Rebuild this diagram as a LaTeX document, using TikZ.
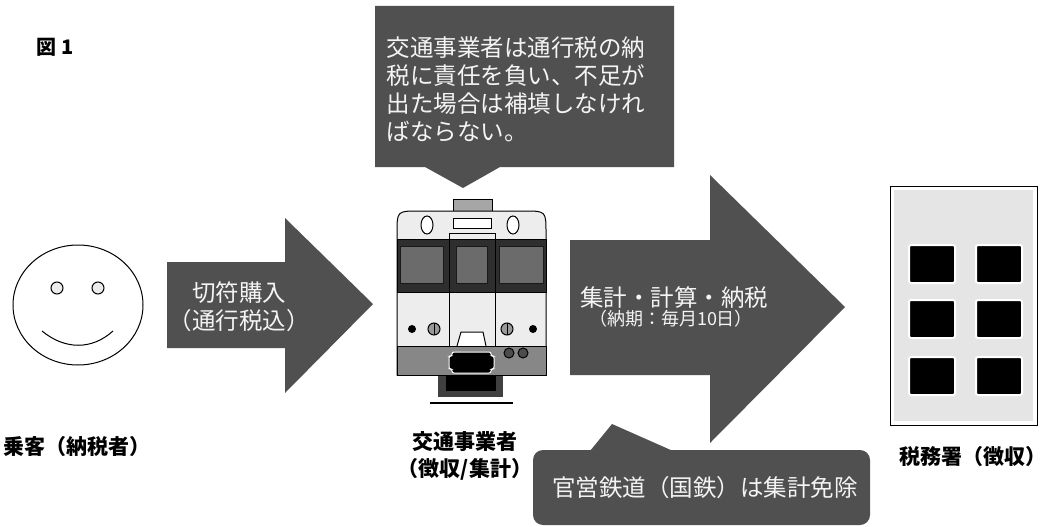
\documentclass[tikz,border=0pt]{standalone}
\usepackage{fontspec}
\usepackage{tikz}
\usetikzlibrary{shapes.geometric}
\newfontfamily\jpfont{Noto Sans CJK JP}
\definecolor{boxgray}{RGB}{80,80,80}
\definecolor{paneltext}{RGB}{244,244,244}

\begin{document}
\begin{tikzpicture}[x=1pt,y=-1pt,line width=1pt,
	boxtext/.style={text=paneltext,font=\jpfont\fontsize{23.5}{28}\selectfont,inner sep=0pt},
	namelabel/.style={font=\jpfont\bfseries\fontsize{21}{27}\selectfont,align=center,inner sep=0pt},
	officewin/.style={fill=black,draw=white,line width=2pt,rounded corners=2pt,minimum width=46,minimum height=38,inner sep=0pt}]
				\useasboundingbox (0,0) rectangle (1052,527);
				\node (fig) at (55,47) [font=\jpfont\bfseries\fontsize{20}{22}\selectfont] {図 1};

				\node (face) at (78,305) [ellipse,draw,minimum width=130,minimum height=120] {};
				\node (eyeL) at (57,288) [circle,draw,fill=gray!15,inner sep=0pt,minimum size=12] {};
				\node (eyeR) at (98,288) [circle,draw,fill=gray!15,inner sep=0pt,minimum size=12] {};
				\draw (42,331) .. controls (65,350) and (92,350) .. (113,331);
				\node (rider) at (77,447) [namelabel] {乗客（納税者）};

				\fill[boxgray] (167,262) -- (285,262) -- (285,218) -- (373,304) -- (285,393) -- (285,348) -- (167,348) -- cycle;
				\node (buy) at (239,307) [boxtext,align=center] {切符購入\\（通行税込）};

				\fill[boxgray] (375,6) -- (674,6) -- (674,167) -- (500,167) -- (463,188) -- (425,167) -- (375,167) -- cycle;
				\node (duty) at (386,89) [boxtext,anchor=west,align=left] {交通事業者は通行税の納\\税に責任を負い、不足が\\出た場合は補填しなけれ\\ばならない。};

				\draw[fill=black!35] (453,199) rectangle (492,211);
				\filldraw[fill=black!7] (397,375) -- (397,233) .. controls (397,211) .. (419,211) -- (524,211) .. controls (546,211) .. (546,233) -- (546,375) -- cycle;
				\draw[fill=white] (427,225) ellipse (6 and 9);
				\draw[fill=white] (513,225) ellipse (6 and 9);
				\draw[fill=white] (453,218) rectangle (491,228);
				\filldraw[fill=black!82,draw=black] (397,239) rectangle (546,292);
				\filldraw[fill=black!58,draw=black!90] (400,246) rectangle (443,283);
				\filldraw[fill=black!58,draw=black!90] (456,246) rectangle (487,283);
				\filldraw[fill=black!58,draw=black!90] (499,246) rectangle (543,283);
				\draw[line width=0.6pt] (449,233) rectangle (495,346);
				\fill (412,329) circle (4);
				\fill (533,329) circle (4);
				\draw[fill=black!40] (434,329) circle (6);
				\draw (434,323) -- (434,335);
				\draw[fill=black!40] (507,329) circle (6);
				\draw (507,323) -- (507,335);
				\draw[fill=white] (457,346) -- (461,332) -- (483,332) -- (486,346);
				\filldraw[fill=black!47] (397,346) rectangle (546,375);
				\filldraw[fill=black,draw=white,rounded corners=2pt] (452,352) -- (491,352) -- (491,356) -- (494,356) -- (494,369) -- (491,369) -- (491,373) -- (452,373) -- (452,369) -- (449,369) -- (449,356) -- (452,356) -- cycle;
				\filldraw[fill=black!70] (509,353) circle (5);
				\filldraw[fill=black!70] (523,353) circle (5);
				\fill[black!75] (438,376) rectangle (503,397);
				\fill (446,376) rectangle (496,391);
				\draw[line width=2.5pt] (430,403) -- (513,403);
				\node (railway) at (465,456) [namelabel] {交通事業者\\（徴収/集計）};

				\fill[boxgray] (570,240) -- (710,240) -- (710,175) -- (845,307) -- (710,443) -- (710,375) -- (570,375) -- cycle;
				\node (sum) at (674,298) [boxtext] {集計・計算・納税};
				\node (due) at (671,319) [boxtext,font=\jpfont\fontsize{18}{20}\selectfont] {（納期：毎月10日）};

				\fill[boxgray,rounded corners=10pt] (533,450) rectangle (870,525);
				\fill[boxgray] (590,451) -- (612,424) -- (673,451) -- cycle;
				\node (exempt) at (705,488) [boxtext] {官営鉄道（国鉄）は集計免除};

				\draw[fill=white] (890,186) rectangle (1037,425);
				\fill[black!10] (894,190) rectangle (1033,421);
				\foreach \c/\x in {1/932,2/999}
					\foreach \r/\y in {1/264,2/319,3/376}
						\node (win\c\r) at (\x,\y) [officewin] {};
				\node (office) at (973,457) [namelabel] {税務署（徴収）};
			\end{tikzpicture}
\end{document}
